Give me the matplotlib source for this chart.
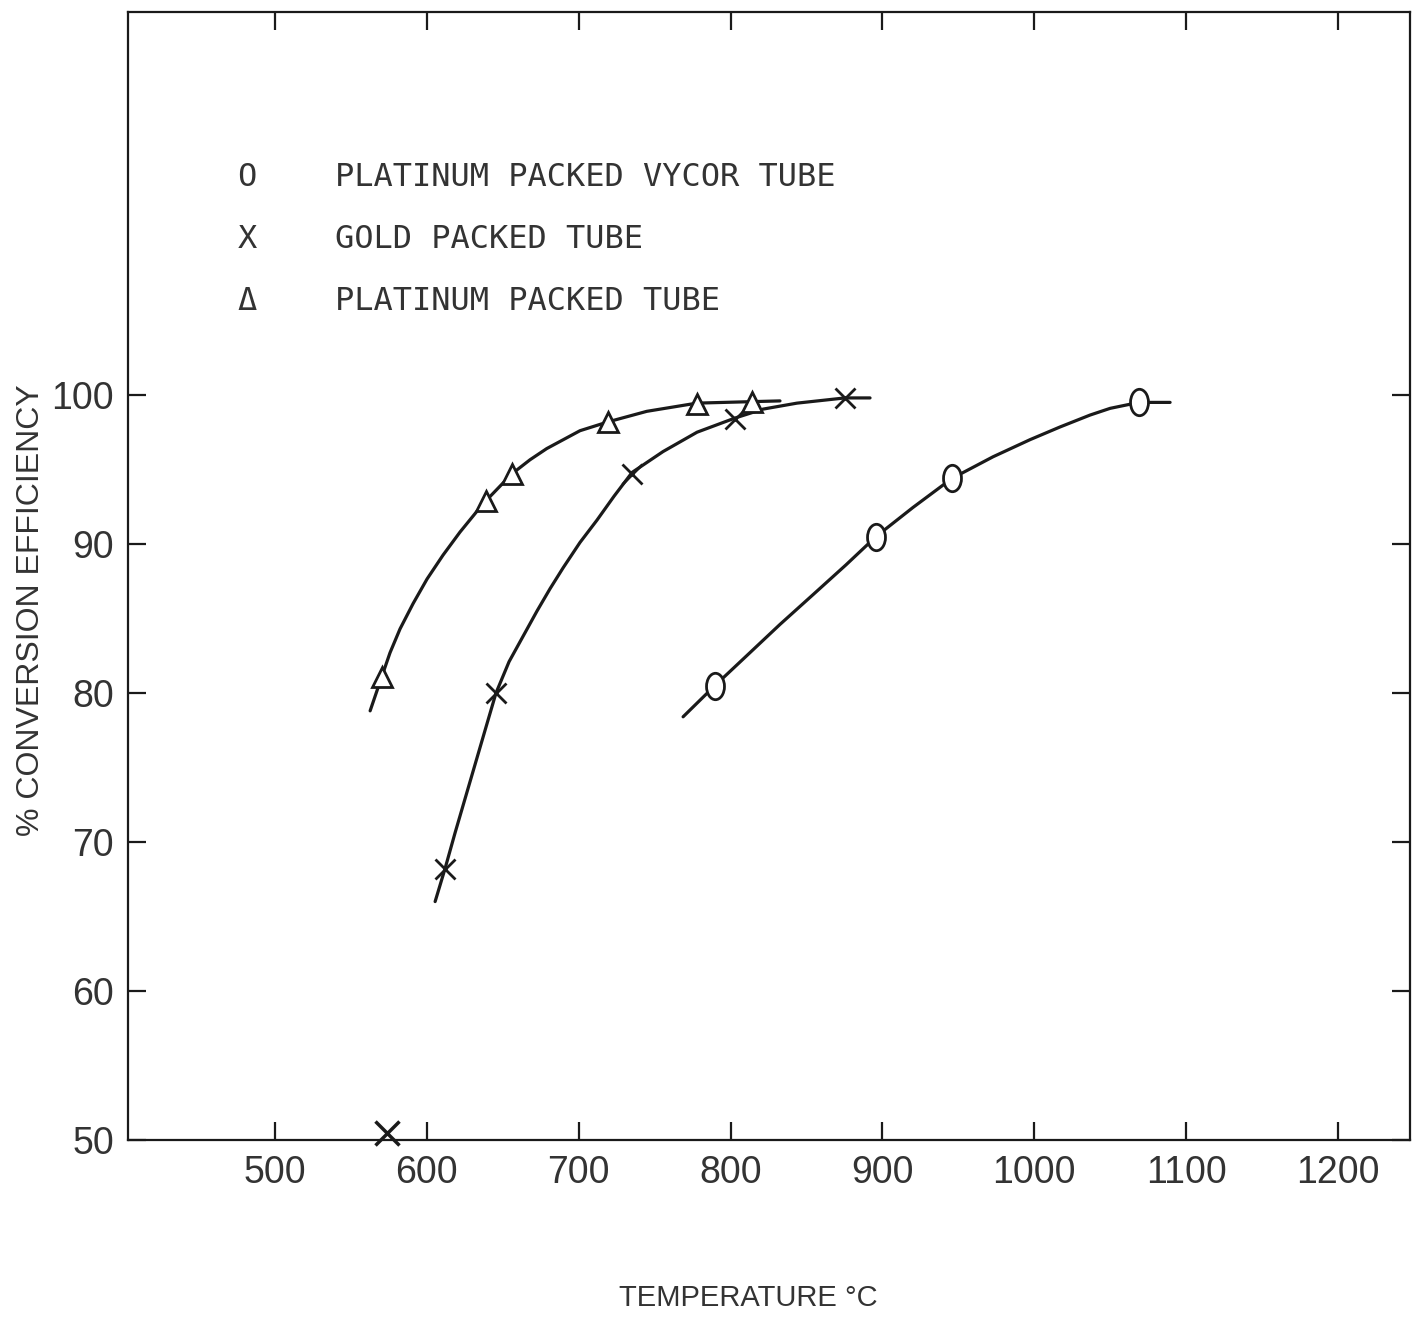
import matplotlib
matplotlib.use('Agg')
import matplotlib.pyplot as plt
from matplotlib.path import Path
from matplotlib.transforms import Affine2D

# Data (temperature in deg C, % conversion)
vycor_t = [789.7, 895.8, 945.8, 1068.9]
vycor_eff = [80.5, 90.5, 94.4, 99.5]

gold_t = [611.9, 645.5, 735.1, 802.9, 875.3]
gold_eff = [68.2, 80.0, 94.7, 98.4, 99.8]
gold_extra_t = [574]
gold_extra_eff = [50.5]

plat_t = [570.3, 638.9, 655.9, 719.5, 777.7, 813.9]
plat_eff = [81.1, 92.9, 94.7, 98.2, 99.4, 99.55]

# Hand drawn curves
vycor_curve_t = [768.7, 789.7, 810.6, 832.5, 854.3, 876.0, 895.8, 920.1, 945.8, 972.8,
                 997.2, 1016.9, 1036.7, 1049.9, 1068.9, 1089.4]
vycor_curve_eff = [78.4, 80.5, 82.5, 84.6, 86.6, 88.6, 90.5, 92.45, 94.4, 95.85,
                   97.0, 97.85, 98.65, 99.1, 99.5, 99.5]

gold_curve_t = [605.4, 611.9, 618.5, 625.1, 631.7, 638.3, 645.5, 654.1, 663.3, 672.5, 681.1, 689.7,
                700.8, 712.0, 723.2, 735.1, 755.5, 777.9, 802.9, 821.4, 843.7, 875.3, 891.8]
gold_curve_eff = [66.0, 68.2, 70.6, 72.9, 75.2, 77.5, 80.0, 82.1, 83.8, 85.5, 87.0, 88.4,
                  90.1, 91.6, 93.2, 94.8, 96.2, 97.5, 98.45, 99.05, 99.45, 99.8, 99.8]

plat_curve_t = [562.6, 570.3, 575.7, 582.3, 590.9, 600.1, 610.6, 621.8, 633.0, 638.9, 655.9, 667.9,
                678.9, 700.8, 719.5, 744.8, 777.7, 813.9, 832.5]
plat_curve_eff = [78.8, 81.1, 82.7, 84.3, 86.0, 87.65, 89.25, 90.8, 92.2, 92.9, 94.7, 95.65,
                  96.4, 97.6, 98.2, 98.9, 99.45, 99.55, 99.6]

x_ticks = [500, 600, 700, 800, 900, 1000, 1100, 1200]
y_ticks = [50, 60, 70, 80, 90, 100]

legend_symbols = ['O', 'X', '\u0394']
legend_labels = ['PLATINUM PACKED VYCOR TUBE', 'GOLD PACKED TUBE', 'PLATINUM PACKED TUBE']

ink = '#1a1a1a'
txt = '#333333'
sans = ['Liberation Sans', 'DejaVu Sans']
mono = ['DejaVu Sans Mono']

fig = plt.figure(figsize=(14.12, 13.17), dpi=100)
ax = fig.add_axes([0.0907, 0.1344, 0.9079, 0.8565])

# oval marker for the circles
oval = Path.unit_circle().transformed(Affine2D().scale(0.68, 1.0))

line_kw = dict(color=ink, lw=2.3, solid_capstyle='round', solid_joinstyle='round')
ax.plot(vycor_curve_t, vycor_curve_eff, **line_kw)
ax.plot(gold_curve_t, gold_curve_eff, **line_kw)
ax.plot(plat_curve_t, plat_curve_eff, **line_kw)

ax.plot(vycor_t, vycor_eff, ls='none', marker=oval, ms=19, mfc='white', mec=ink, mew=2)
ax.plot(gold_t, gold_eff, ls='none', marker='x', ms=15, mec=ink, mew=2)
ax.plot(gold_extra_t, gold_extra_eff, ls='none', marker='x', ms=17, mec=ink, mew=2.5, clip_on=False)
ax.plot(plat_t, plat_eff, ls='none', marker='^', ms=14, mfc='white', mec=ink, mew=2)

ax.set_xlim(403.2, 1247.4)
ax.set_ylim(50, 125.7)
ax.set_xticks(x_ticks)
ax.set_yticks(y_ticks)
ax.set_xticklabels([str(v) for v in x_ticks], family=sans, fontsize=27, color=txt)
ax.set_yticklabels([str(v) for v in y_ticks], family=sans, fontsize=27, color=txt)
ax.tick_params(direction='in', length=13, width=1.6, color=ink, top=True, right=True)
ax.tick_params(axis='x', pad=11)
ax.tick_params(axis='y', pad=10)
for s in ax.spines.values():
    s.set_linewidth(1.6)
    s.set_color(ink)

# legend drawn as typed text, like the original
rows = [0.8537, 0.7979, 0.7429]
for sym, lab, yy in zip(legend_symbols, legend_labels, rows):
    ax.text(0.0928, yy, sym, transform=ax.transAxes, ha='center', va='center',
            family=mono, fontsize=23, color=txt)
    ax.text(0.1615, yy, lab, transform=ax.transAxes, ha='left', va='center',
            family=mono, fontsize=23, color=txt)

fig.text(31 / 1412, 1 - 610 / 1317, '% CONVERSION EFFICIENCY', rotation=90,
         ha='center', va='center', family=sans, fontsize=23, color=txt)
fig.text(748 / 1412, 1 - 1298 / 1317, 'TEMPERATURE \u00b0C', ha='center', va='center',
         family=sans, fontsize=21, color=txt)

fig.savefig('out.png', dpi=100, facecolor='white')
